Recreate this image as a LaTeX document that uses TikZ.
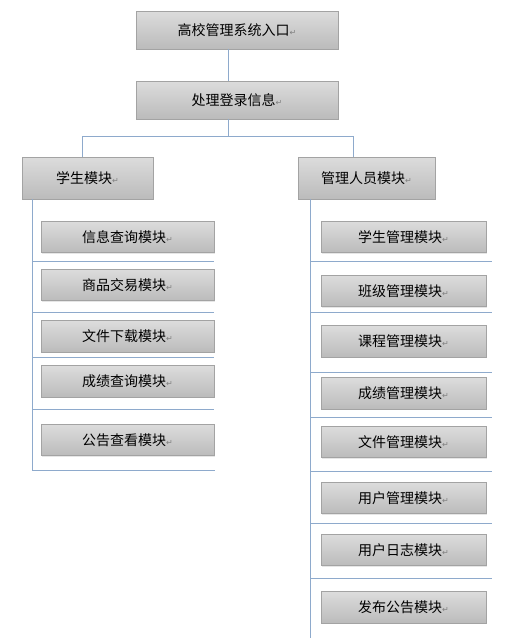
\documentclass[tikz,border=0pt]{standalone}
\usepackage{fontspec}
\setmainfont{Noto Sans CJK SC}
\newfontfamily\markfont{DejaVu Sans}
\usepackage{xcolor}
\usetikzlibrary{positioning,shadows}
\definecolor{linkblue}{HTML}{8EAACC}
\definecolor{boxedge}{HTML}{A3A3A3}
\definecolor{boxtop}{HTML}{DCDCDC}
\definecolor{boxbot}{HTML}{BBBBBB}
\newcommand{\retmark}{{\markfont\fontsize{8}{8}\selectfont\textcolor{gray}{↵}}}

\begin{document}
\begin{tikzpicture}[x=1pt, y=-1pt,
    modbox/.style={draw=boxedge, line width=0.8pt, top color=boxtop, bottom color=boxbot,
      inner sep=0pt, font=\fontsize{14}{16}\selectfont,
      drop shadow={shadow xshift=1pt, shadow yshift=-1pt, opacity=0.2}},
    subbox/.style={modbox, minimum height=31.5pt},
    link/.style={draw=linkblue, line width=0.9pt}]
	\useasboundingbox (0,0) rectangle (518,638);
	% top of the tree
	\node[modbox, minimum width=202pt, minimum height=38pt] (entry) at (237,30) {高校管理系统入口\retmark};
	\node[modbox, minimum width=202pt, minimum height=38pt] (login) at (237,100) {处理登录信息\retmark};
	\node[modbox, minimum width=131pt, minimum height=42pt] (stu) at (87.5,178) {学生模块\retmark};
	\node[modbox, minimum width=137pt, minimum height=42pt] (adm) at (366.5,178) {管理人员模块\retmark};
	\coordinate (split) at (228,136);
	\draw[link] ([xshift=-9pt]entry.south) -- ([xshift=-9pt]login.north);
	\draw[link] ([xshift=-9pt]login.south) -- (split);
	\draw[link] (split) -| ([xshift=-5.5pt]stu.north);
	\draw[link] (split) -| ([xshift=-13.5pt]adm.north);
	% student side
	\draw[link] ([xshift=-55.5pt]stu.south) |- (215,470);
	\foreach \y in {261,312,357,409}
		\draw[link] (32,\y) -- (214,\y);
	\foreach \name/\y/\txt in {sinfo/237/信息查询模块, strade/285/商品交易模块, sfile/336.5/文件下载模块,
		sscore/381.5/成绩查询模块, snote/440/公告查看模块}
		\node[subbox, minimum width=173pt] (\name) at (127.5,\y) {\txt\retmark};
	% admin side
	\draw[link] ([xshift=-56.5pt]adm.south) -- (310,638);
	\foreach \y in {261,312,372,417,471,523,578}
		\draw[link] (310,\y) -- (492,\y);
	\foreach \name/\y/\txt in {astu/237/学生管理模块, aclass/291/班级管理模块, acourse/341.5/课程管理模块,
		ascore/393.5/成绩管理模块, afile/442/文件管理模块, auser/498/用户管理模块,
		alog/550/用户日志模块, anote/607.5/发布公告模块}
		\node[subbox, minimum width=165pt] (\name) at (403.5,\y) {\txt\retmark};
\end{tikzpicture}
\end{document}
